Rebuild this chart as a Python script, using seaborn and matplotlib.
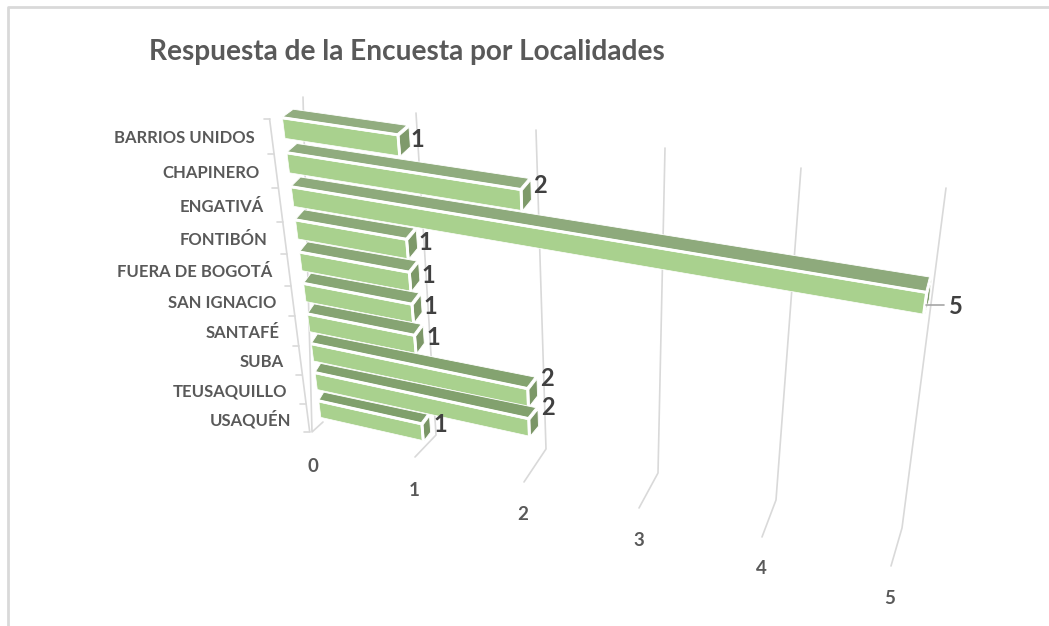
import numpy as np
import matplotlib
matplotlib.use('Agg')
import matplotlib.pyplot as plt
from matplotlib.patches import Polygon
from matplotlib.transforms import Affine2D, Transform
import seaborn as sns

# Datos del grafico
localidades = ['BARRIOS UNIDOS', 'CHAPINERO', 'ENGATIVÁ', 'FONTIBÓN', 'FUERA DE BOGOTÁ',
               'SAN IGNACIO', 'SANTAFÉ', 'SUBA', 'TEUSAQUILLO', 'USAQUÉN']
respuestas = [1, 2, 5, 1, 1, 1, 1, 2, 2, 1]
ticks = [0, 1, 2, 3, 4, 5]
titulo = 'Respuesta de la Encuesta por Localidades'

# Calibracion de la perspectiva: (valor, categoria) -> pixel de la imagen
cal_frente = [(0, -.275, 283, 119), (0, .275, 285, 138), (1, -.275, 398, 134), (1, .275, 397, 157),
              (0, .725, 287, 154), (2, .725, 521, 190), (2, 1.275, 519, 212), (0, 1.725, 292, 188),
              (5, 1.725, 926, 294), (5, 2.275, 923, 315), (2, 6.725, 528, 388), (2, 7.275, 527, 407),
              (0, 6.725, 312, 345), (2, 7.725, 529, 417), (2, 8.275, 528, 436), (0, 8.725, 319, 403),
              (0, 9.275, 321, 419), (1, 8.725, 422, 424), (1, 9.275, 420, 441)]
cal_fondo = [(0, -.275, 295, 110), (1, -.275, 406, 127), (2, .725, 528, 180), (0, 1.725, 300, 179),
             (5, 1.725, 930, 281), (0, 6.725, 318, 337), (2, 6.725, 536, 377), (2, 7.725, 535, 407),
             (0, 8.725, 323, 396), (1, 8.725, 428, 417), (1, .275, 408, 148)]

# Lineas de cuadricula: arriba, quiebre y fin de cada marca
grid_arriba = [(303, 97), (416, 113), (536, 130), (665, 148), (801, 168), (946, 188)]
grid_quiebre = [(312, 432), (436, 435), (546, 449), (658, 473), (776, 500), (902, 528)]
grid_fin = [(323, 422), (415, 457), (524, 482), (639, 508), (762, 537), (891, 566)]
# Centro de las etiquetas del eje de valores
tick_pos = [(313, 467), (414, 490), (523, 515), (639, 541), (761, 569), (890, 599)]
# Desfase vertical de la etiqueta de cada barra
etiqueta_dy = [-6, -15, 3, -7, -7, -7, -7, -20, -20, -8]

GRIS_LINEA = '#D9D9D9'
GRIS_TEXTO = '#595959'


def homografia(puntos):
    A, b = [], []
    for v, c, x, y in puntos:
        A.append([v, c, 1, 0, 0, 0, -v * x, -c * x])
        A.append([0, 0, 0, v, c, 1, -v * y, -c * y])
        b += [x, y]
    h = np.linalg.lstsq(np.array(A, float), np.array(b, float), rcond=None)[0]
    return np.append(h, 1).reshape(3, 3)


class Perspectiva(Transform):
    input_dims = 2
    output_dims = 2
    is_separable = False

    def __init__(self, H):
        super().__init__()
        self.H = H

    def transform_non_affine(self, values):
        values = np.asarray(values, float)
        p = np.column_stack([values, np.ones(len(values))]) @ self.H.T
        return p[:, :2] / p[:, 2:]


frente = Perspectiva(homografia(cal_frente))
fondo = Perspectiva(homografia(cal_fondo))

sns.set_theme(style='white')
plt.rcParams['font.family'] = ['Lato', 'DejaVu Sans']

fig = plt.figure(figsize=(10.49, 6.26), dpi=100, facecolor='white')
ax = fig.add_axes([0, 0, 1, 1])

sns.barplot(x=respuestas, y=localidades, orient='h', width=.55, color='#A9D18E',
            saturation=1, edgecolor='white', linewidth=.5, ax=ax, zorder=3)
barras = list(ax.patches)

# De pixeles de la imagen (y hacia abajo) a pixeles de la figura
pix = Affine2D().scale(1, -1).translate(0, 626)
ax.axis('off')

# Las caras superiores se oscurecen hacia abajo
tonos_sup = sns.blend_palette(['#92AD80', '#80A06C'], len(barras))
tonos_lat = sns.blend_palette(['#7F9A6B', '#7A9666'], len(barras))

for i, barra in enumerate(barras):
    v = barra.get_width()
    c0, c1 = barra.get_y(), barra.get_y() + barra.get_height()
    barra.set_transform(frente + pix)
    barra.set_zorder(3 * i + 12)
    # Cara superior y cara lateral
    sup = np.vstack([frente.transform([(0, c0), (v, c0)]), fondo.transform([(v, c0), (0, c0)])])
    lat = np.vstack([frente.transform([(v, c0), (v, c1)]), fondo.transform([(v, c1), (v, c0)])])
    ax.add_patch(Polygon(sup + [0, -2], closed=True, fc=tonos_sup[i], ec='white', lw=.6, transform=pix, zorder=3 * i + 10))
    ax.add_patch(Polygon(lat + [2, 0], closed=True, fc=tonos_lat[i], ec='white', lw=.6, transform=pix, zorder=3 * i + 11))
    # Filo blanco entre caras, justo por fuera de la cara frontal
    filo = frente.transform([(0, c0), (v, c0), (v, c1)]) + [.8, -1.2]
    ax.plot(filo[:, 0], filo[:, 1], color='white', lw=2, transform=pix, zorder=3 * i + 13,
            solid_joinstyle='miter')

# Cuadricula y etiquetas del eje de valores
for t, a, q, f, p in zip(ticks, grid_arriba, grid_quiebre, grid_fin, tick_pos):
    ax.plot([a[0], q[0], f[0]], [a[1], q[1], f[1]], color=GRIS_LINEA, lw=1.2, transform=pix, zorder=1)
    ax.text(p[0], p[1], str(t), transform=pix, ha='center', va='center', fontsize=13.5,
            fontweight='bold', color=GRIS_TEXTO)

# Eje de categorias con sus marcas
eje_c = np.arange(len(localidades) + 1) - .5
eje = frente.transform(np.column_stack([np.zeros(len(eje_c)), eje_c])) + [-12, 8]
ax.plot(eje[:, 0], eje[:, 1], color=GRIS_LINEA, lw=1.2, transform=pix, zorder=1)
for x, y in eje:
    ax.plot([x - 6, x], [y, y], color=GRIS_LINEA, lw=1.2, transform=pix, zorder=1)

# Etiquetas de categorias
for i, nombre in enumerate(localidades):
    x, y = frente.transform([(0, i)])[0]
    ax.text(x - 29, y + 9.5, nombre, transform=pix, ha='right', va='center', fontsize=12,
            fontweight='bold', color=GRIS_TEXTO, zorder=50)

# Etiquetas de valores
desfase_x = {1: 19, 2: 20, 5: 32}
for i, v in enumerate(respuestas):
    x, y = frente.transform([(v, i)])[0]
    ax.text(x + desfase_x[v], y + etiqueta_dy[i], str(v), transform=pix, ha='center', va='center',
            fontsize=17, fontweight='bold', color='#404040', zorder=60)
    if v == 5:
        ax.plot([x + 2, x + 20], [y + 1, y + 1], color='#A6A6A6', lw=1.2, transform=pix, zorder=60)

ax.text(149, 52, titulo, transform=pix, ha='left', va='center', fontsize=20.2,
        fontweight='bold', color=GRIS_TEXTO)

# Borde del grafico
ax.plot([8, 8, 1049], [626, 7, 7], color=GRIS_LINEA, lw=2, transform=pix, zorder=1, clip_on=False)

fig.savefig('out.png', dpi=100, facecolor='white')
